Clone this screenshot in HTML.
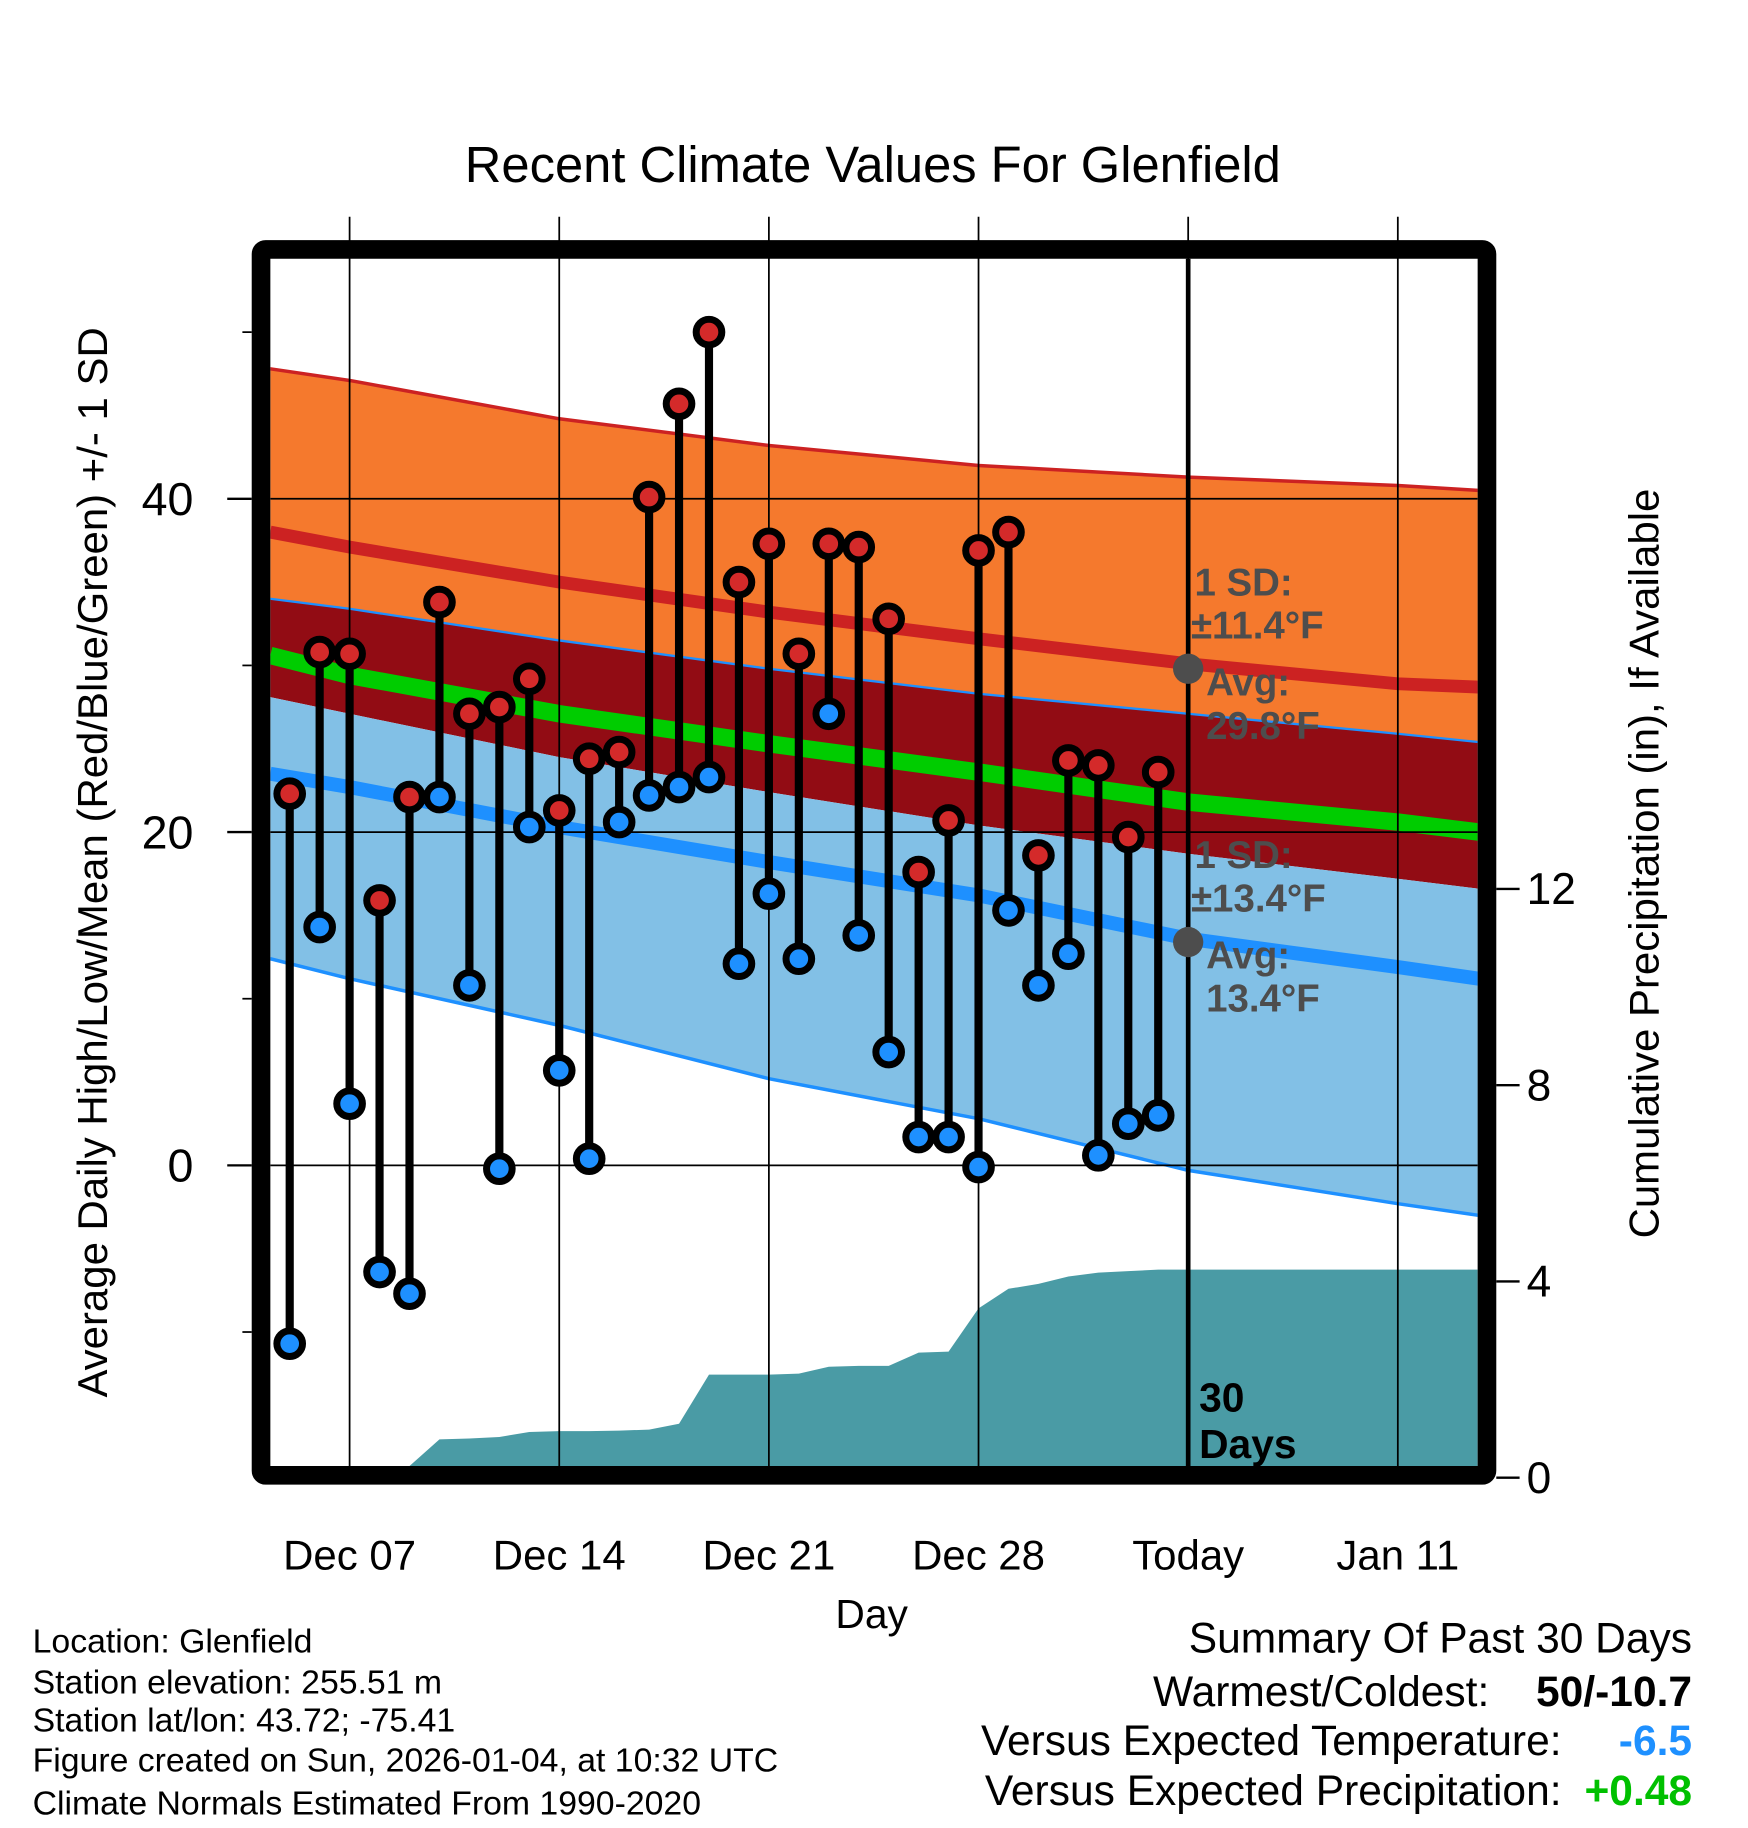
<!DOCTYPE html>
<html><head><meta charset="utf-8"><style>
html,body{margin:0;padding:0;background:#fff}
svg{display:block}
text{font-family:"Liberation Sans",Arial,sans-serif}
</style></head><body>
<svg id="chart" width="1748" height="1828" viewBox="0 0 1500 1568.6" preserveAspectRatio="none" xmlns="http://www.w3.org/2000/svg">
<text x="749" y="156" font-size="43.5" text-anchor="middle">Recent Climate Values For Glenfield</text>
<g id="plot"></g>
<text transform="translate(92,740) rotate(-90)" font-size="36" text-anchor="middle">Average Daily High/Low/Mean (Red/Blue/Green) +/- 1 SD</text>
<text transform="translate(1423,741) rotate(-90)" font-size="36" text-anchor="middle">Cumulative Precipitation (in), If Available</text>
<text x="748" y="1397" font-size="35" text-anchor="middle">Day</text>
<g font-size="29">
<text x="28" y="1418">Location: Glenfield</text>
<text x="28" y="1453">Station elevation: 255.51 m</text>
<text x="28" y="1486">Station lat/lon: 43.72; -75.41</text>
<text x="28" y="1520">Figure created on Sun, 2026-01-04, at 10:32 UTC</text>
<text x="28" y="1557">Climate Normals Estimated From 1990-2020</text>
</g>
<g font-size="36.5" text-anchor="end">
<text x="1452" y="1418">Summary Of Past 30 Days</text>
<text x="1278" y="1464">Warmest/Coldest:</text>
<text x="1452" y="1464" font-weight="bold">50/-10.7</text>
<text x="1340" y="1506">Versus Expected Temperature:</text>
<text x="1452" y="1506" font-weight="bold" fill="#1e90ff">-6.5</text>
<text x="1340" y="1549">Versus Expected Precipitation:</text>
<text x="1452" y="1549" font-weight="bold" fill="#00c000">+0.48</text>
</g>
</svg>
<script>
const days=[5,6,7,8,9,10,11,12,13,14,15,16,17,18,19,20,21,22,23,24,25,26,27,28,29,30,31,32,33,34];
const highs=[22.3,30.8,30.7,15.9,22.1,33.8,27.1,27.5,29.2,21.3,24.4,24.8,40.1,45.7,50,35.0,37.3,30.7,37.3,37.1,32.8,17.6,20.7,36.9,38.0,18.6,24.3,24.0,19.7,23.6];
const lows=[-10.7,14.3,3.7,-6.4,-7.7,22.1,10.8,-0.2,20.3,5.7,0.4,20.6,22.2,22.7,23.3,12.1,16.3,12.4,27.1,13.8,6.8,1.7,1.7,-0.1,15.3,10.8,12.7,0.6,2.5,3.0];
const precip=[0,0,0,0,0,0.78,0.8,0.83,0.93,0.95,0.95,0.96,0.98,1.1,2.1,2.1,2.1,2.12,2.26,2.28,2.28,2.55,2.57,3.45,3.85,3.95,4.1,4.18,4.21,4.24];
const normDays=[4.35,7,14,21,28,35,42,44.7];
const hiPlusSD=[47.8,47.1,44.8,43.2,42.0,41.3,40.8,40.5];
const hiAvg=[38.0,37.1,35.0,33.2,31.6,30.1,28.9,28.7];
const hiMinusSD=[34.0,33.4,31.5,29.8,28.3,27.1,25.9,25.4];
const meanAvg=[30.6,29.4,27.1,25.3,23.6,21.8,20.6,20.0];
const darkBottom=[28.1,27.1,24.5,22.4,20.4,18.7,17.2,16.6];
const loAvg=[23.5,22.7,20.3,18.2,16.2,13.6,11.9,11.2];
const loMinusSD=[12.4,11.2,8.4,5.2,2.8,-0.3,-2.3,-3.0];
const xTickDays=[7,14,21,28,35,42];
const xTickLabels=["Dec 07","Dec 14","Dec 21","Dec 28","Today","Jan 11"];
const yTicks=[0,20,40];
const yMinor=[-10,10,30,50];
const pTicks=[0,4,8,12];

const NS="http://www.w3.org/2000/svg";
const L=232,R=1268,T=222,B=1258;
const X=d=>300+(d-7)*25.7;
const Y=t=>1000-14.3*t;
const P=p=>1268-42.1*p;
const g=document.getElementById('plot');
function mk(tag,attrs,parent){const e=document.createElementNS(NS,tag);for(const k in attrs)e.setAttribute(k,attrs[k]);(parent||g).appendChild(e);return e;}
const clip=mk('clipPath',{id:'pc'});mk('rect',{x:L,y:T,width:R-L,height:B-T},clip);
const inner=mk('g',{'clip-path':'url(#pc)'});
function pts(arr){return normDays.map((d,i)=>X(d)+','+Y(arr[i]));}
function band(a,b,fill,name){
  const e=mk('polygon',{points:pts(a).concat(pts(b).reverse()).join(' '),fill:fill},inner);
  
  
}
function line(a,color,w,name){
  const e=mk('polyline',{points:pts(a).join(' '),fill:'none',stroke:color,'stroke-width':w},inner);
  
  
}
band(hiPlusSD,hiMinusSD,'#f5792d','high-sd-band');
band(hiMinusSD,darkBottom,'#920c14','overlap-band');
band(darkBottom,loMinusSD,'#82c0e6','low-sd-band');
line(hiPlusSD,'#cc2222',3,'high-plus-sd-line');
line(hiMinusSD,'#1e90ff',2,'high-minus-sd-line');
line(loMinusSD,'#1e90ff',3,'low-minus-sd-line');
line(hiAvg,'#cc2222',11,'avg-high-line');
line(meanAvg,'#00cc00',15,'avg-mean-line');
line(loAvg,'#1e90ff',12,'avg-low-line');
let pp=[X(days[0])+','+B];
days.forEach((d,i)=>pp.push(X(d)+','+Math.min(B,P(precip[i]))));
pp.push(R+','+Math.min(B,P(precip[precip.length-1])));pp.push(R+','+B);
const pa=mk('polygon',{points:pp.join(' '),fill:'#4a9ba5'},inner);


yTicks.forEach(t=>{const e=mk('line',{x1:L,x2:R,y1:Y(t),y2:Y(t),stroke:'#000','stroke-width':1.5},inner);

});
xTickDays.forEach((d,i)=>{
  const e=mk('line',{x1:X(d),x2:X(d),y1:186,y2:B,stroke:'#000','stroke-width':1.5});
  
  
  if(i==4){const tl=mk('line',{x1:X(d),x2:X(d),y1:T,y2:B,stroke:'#000','stroke-width':4});
    
    }
  const t=mk('text',{x:X(d),y:1347,'font-size':36,'text-anchor':'middle'});t.textContent=xTickLabels[i];
  
  
});
days.forEach((d,i)=>{
  const s=mk('line',{x1:X(d),x2:X(d),y1:Y(highs[i]),y2:Y(lows[i]),stroke:'#000','stroke-width':7});
  
  
});
days.forEach((d,i)=>{
  const h=mk('circle',{cx:X(d),cy:Y(highs[i]),r:11,fill:'#d42a2a',stroke:'#000','stroke-width':6});
  
  
  const l=mk('circle',{cx:X(d),cy:Y(lows[i]),r:11,fill:'#1e90ff',stroke:'#000','stroke-width':6});
  
  
});
const ann=mk('g',{fill:'#4d4d4d','font-size':33,'font-weight':'bold'});


mk('circle',{cx:X(35),cy:Y(29.8),r:13,fill:'#4d4d4d'},ann);
mk('circle',{cx:X(35),cy:Y(13.4),r:13,fill:'#4d4d4d'},ann);
[['1 SD:',1025,511],['±11.4°F',1022,548],['Avg:',1035,597],['29.8°F',1035,634],['1 SD:',1025,745],['±13.4°F',1022,782],['Avg:',1035,831],['13.4°F',1035,868]].forEach(a=>{const t=mk('text',{x:a[1],y:a[2]},ann);t.textContent=a[0];});
const dd=mk('g',{'font-size':35,'font-weight':'bold'});


mk('text',{x:1029,y:1211},dd).textContent='30';
mk('text',{x:1029,y:1251},dd).textContent='Days';
const fr=mk('rect',{x:224,y:214,width:1052,height:1052,fill:'none',stroke:'#000','stroke-width':16,rx:4});


yTicks.forEach(t=>{mk('line',{x1:195,x2:216,y1:Y(t),y2:Y(t),stroke:'#000','stroke-width':2});
  const e=mk('text',{x:166,y:Y(t)+14,'font-size':40,'text-anchor':'end'});e.textContent=t;
  
  });
yMinor.forEach(t=>mk('line',{x1:208,x2:216,y1:Y(t),y2:Y(t),stroke:'#000','stroke-width':1.5}));
pTicks.forEach(p=>{mk('line',{x1:1284,x2:1304,y1:P(p),y2:P(p),stroke:'#000','stroke-width':2});
  const e=mk('text',{x:1310,y:P(p)+13,'font-size':38});e.textContent=p;
  
  });
</script>
</body></html>
